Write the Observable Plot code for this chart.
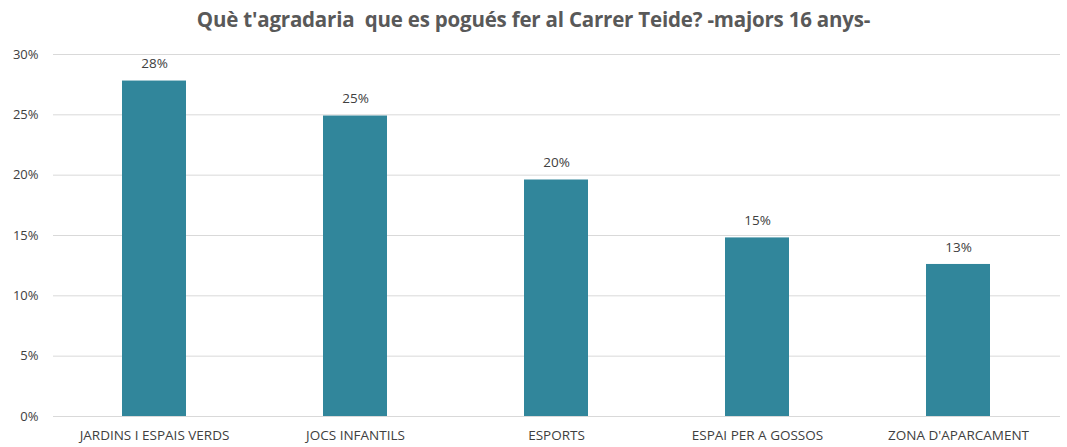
<!DOCTYPE html>
<html>
<head>
<meta charset="utf-8">
<script src="https://cdn.jsdelivr.net/npm/d3@7"></script>
<script src="https://cdn.jsdelivr.net/npm/@observablehq/plot@0.6"></script>
<style>
  body { margin: 0; background: #fff; font-family: "Open Sans", sans-serif; }
  #title { height: 38px; line-height: 39px; text-align: center; font-weight: bold; font-size: 20.5px; color: #595959; letter-spacing: -0.2px; white-space: pre; }
</style>
</head>
<body>
<div id="title">Què t'agradaria  que es pogués fer al Carrer Teide? -majors 16 anys-</div>
<div id="chart"></div>
<script>
const categories = ["JARDINS I ESPAIS VERDS", "JOCS INFANTILS", "ESPORTS", "ESPAI PER A GOSSOS", "ZONA D'APARCAMENT"];
const values = [0.278, 0.249, 0.196, 0.148, 0.126];
const yTicks = [0, 0.05, 0.10, 0.15, 0.20, 0.25, 0.30];

const data = categories.map((c, i) => ({category: c, value: values[i]}));
const pct = d3.format(".0%");

const plot = Plot.plot({
  width: 1067,
  height: 409,
  marginTop: 16,
  marginBottom: 31,
  marginLeft: 53,
  marginRight: 7,
  style: {fontFamily: "Open Sans, sans-serif", fontSize: "13px", color: "#595959"},
  x: {domain: categories, paddingInner: 0.68, paddingOuter: 0.34, label: null},
  y: {domain: [0, 0.30], label: null},
  marks: [
    Plot.gridY(yTicks, {stroke: "#d9d9d9", strokeOpacity: 1, strokeWidth: 1}),
    Plot.barY(data, {x: "category", y: "value", fill: "#31869B"}),
    Plot.text(data, {x: "category", y: "value", text: d => pct(d.value), dy: -17, fill: "#404040", fontSize: 13.5}),
    Plot.axisX({tickSize: 0, tickPadding: 14, fill: "#404040", fontSize: 13.5}),
    Plot.axisY({ticks: yTicks, tickFormat: pct, tickSize: 0, tickPadding: 15, fill: "#404040", fontSize: 13})
  ]
});
document.getElementById("chart").appendChild(plot);
</script>
</body>
</html>
